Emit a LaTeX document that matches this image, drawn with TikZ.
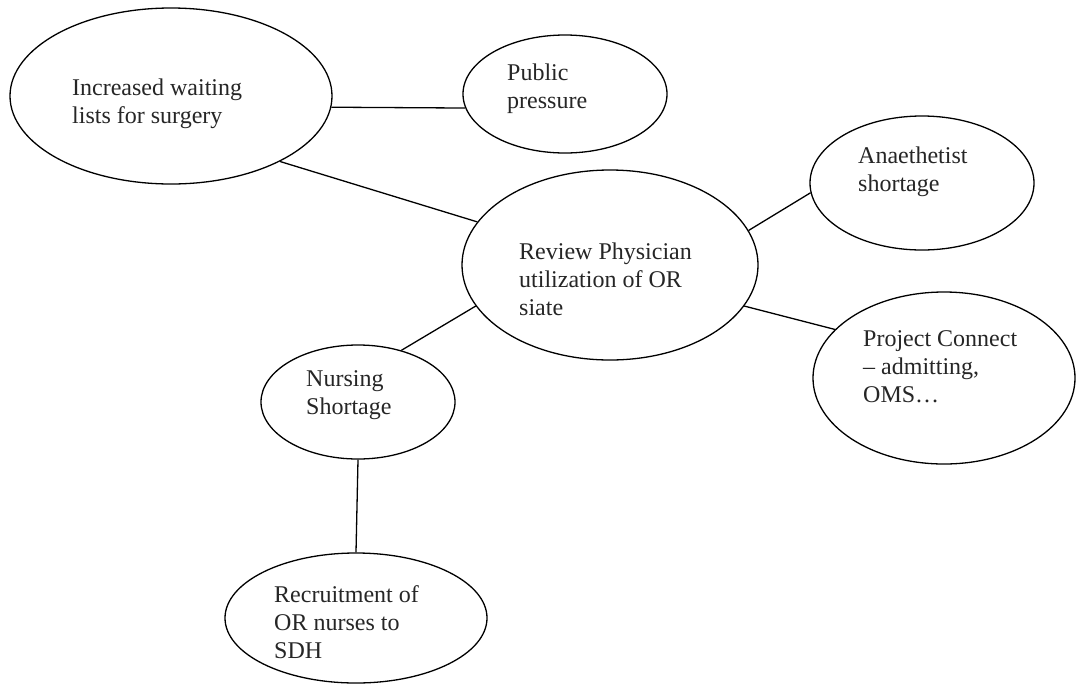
\documentclass[tikz,border=0pt]{standalone}
\usepackage{fontspec}
\setmainfont{Liberation Serif}
\usetikzlibrary{shapes.geometric}
\begin{document}
\begin{tikzpicture}[x=1pt,y=-1pt,
  ell/.style={draw=black, line width=1.3pt, ellipse, inner sep=0pt},
  lbl/.style={anchor=west, align=left, inner sep=0pt, text=black!85,
    font=\fontsize{24}{28}\selectfont},
  conn/.style={draw=black, line width=1.3pt}]
\useasboundingbox (0,0) rectangle (1076,686);
\fill[white] (0,0) rectangle (1076,686);
% ellipses
\node[ell, minimum width=322pt, minimum height=176pt] (inc) at (171,96) {};
\node[ell, minimum width=204pt, minimum height=118pt] (pub) at (565,94) {};
\node[ell, minimum width=296pt, minimum height=190pt] (rev) at (610,265) {};
\node[ell, minimum width=224pt, minimum height=134pt] (ana) at (922,183) {};
\node[ell, minimum width=262pt, minimum height=172pt] (proj) at (944,378) {};
\node[ell, minimum width=194pt, minimum height=114pt] (nur) at (358,402) {};
\node[ell, minimum width=262pt, minimum height=130pt] (rec) at (356,618) {};
% texts
\node[lbl] (inct) at (72,104) {Increased waiting\\lists for surgery};
\node[lbl] (pubt) at (507,89) {Public\\pressure};
\node[lbl] (revt) at (519,279) {Review Physician\\utilization of OR\\siate};
\node[lbl] (anat) at (858,172) {Anaethetist\\shortage};
\node[lbl] (projt) at (863,367) {Project Connect\\-- admitting,\\OMS\ldots};
\node[lbl] (nurt) at (306,395) {Nursing\\Shortage};
\node[lbl] (rect) at (274,622) {Recruitment of\\OR nurses to\\SDH};
% connectors
\draw[conn] (inc.-4) -- (pub.-172);
\draw[conn] (inc.-31) -- (rev.162);
\draw[conn] (rev.14) -- (ana.185);
\draw[conn] (rev.-17) -- (proj.156);
\draw[conn] (rev.-163) -- (nur.50);
\draw[conn] (nur.south) -- (rec.north);
\end{tikzpicture}
\end{document}
